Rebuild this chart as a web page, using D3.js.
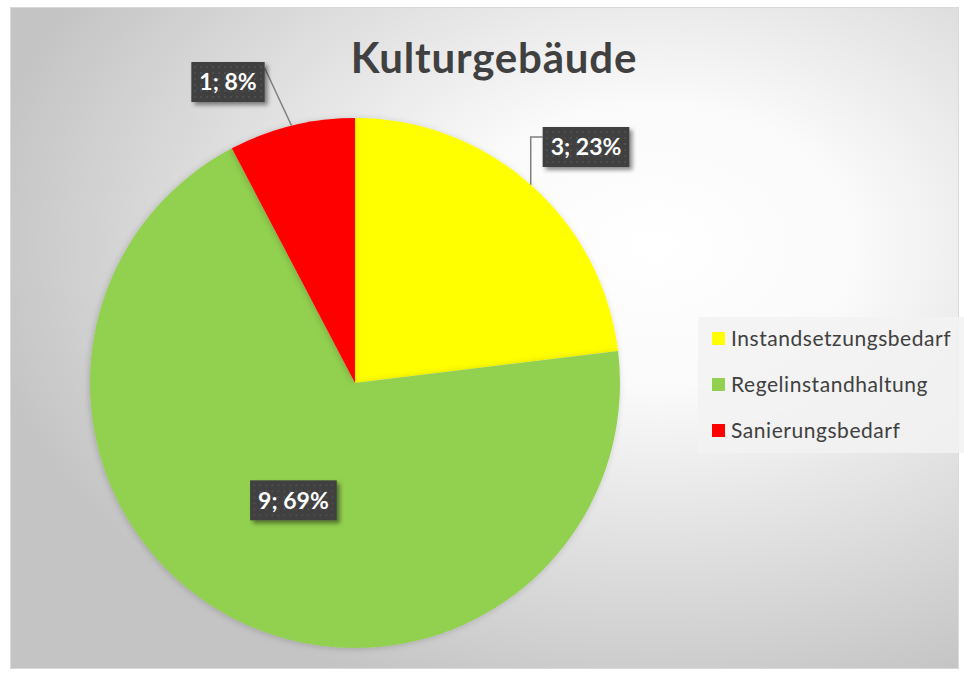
<!DOCTYPE html>
<html>
<head>
<meta charset="utf-8">
<script src="https://cdn.jsdelivr.net/npm/d3@7"></script>
<style>
  body { margin: 0; background: #fff; }
  text { font-family: Lato, "Open Sans", sans-serif; }
</style>
</head>
<body>
<svg id="canvas"></svg>
<script>
const categories = ["Instandsetzungsbedarf", "Regelinstandhaltung", "Sanierungsbedarf"];
const counts = [3, 9, 1];
const colors = ["#ffff00", "#92d050", "#ff0000"];
const title = "Kulturgebäude";

function getChartConfig() {
  let canvasWidth = 964,
    canvasHeight = 673;
  let svg = d3.select("#canvas");
  svg.attr("width", canvasWidth).attr("height", canvasHeight);
  let cx = 355, cy = 383, radius = 265;
  return { canvasWidth, canvasHeight, svg, cx, cy, radius };
}

function drawBackground(config) {
  let { svg } = config;
  let defs = svg.append("defs");

  let grad = defs.append("radialGradient")
    .attr("id", "bg")
    .attr("cx", "68%").attr("cy", "36%").attr("r", "72%");
  grad.append("stop").attr("offset", "0%").attr("stop-color", "#ffffff");
  grad.append("stop").attr("offset", "30%").attr("stop-color", "#fafafa");
  grad.append("stop").attr("offset", "100%").attr("stop-color", "#c4c4c4");

  let pat = defs.append("pattern")
    .attr("id", "dots")
    .attr("width", 6).attr("height", 6)
    .attr("patternUnits", "userSpaceOnUse");
  pat.append("rect").attr("width", 6).attr("height", 6).attr("fill", "#3f3f3f");
  pat.append("circle").attr("cx", 3).attr("cy", 3).attr("r", 0.9).attr("fill", "#555");

  let sh = defs.append("filter").attr("id", "shadow")
    .attr("x", "-20%").attr("y", "-20%").attr("width", "150%").attr("height", "160%");
  sh.append("feDropShadow")
    .attr("dx", 3).attr("dy", 3).attr("stdDeviation", 2)
    .attr("flood-color", "#000").attr("flood-opacity", 0.45);

  let psh = defs.append("filter").attr("id", "pieshadow")
    .attr("x", "-10%").attr("y", "-10%").attr("width", "120%").attr("height", "120%");
  psh.append("feDropShadow")
    .attr("dx", -1).attr("dy", 1).attr("stdDeviation", 3)
    .attr("flood-color", "#000").attr("flood-opacity", 0.18);

  svg.append("rect")
    .attr("x", 10.5).attr("y", 7.5)
    .attr("width", 948).attr("height", 661)
    .attr("fill", "url(#bg)")
    .attr("stroke", "#d9d9d9");

  svg.append("text")
    .attr("x", 494).attr("y", 73)
    .attr("text-anchor", "middle")
    .attr("font-size", 42)
    .attr("letter-spacing", 0.8)
    .attr("font-weight", "bold")
    .attr("fill", "#404040")
    .text(title);
}

function drawPie(config) {
  let { svg, cx, cy, radius } = config;
  let total = d3.sum(counts);

  let pie = d3.pie().sort(null).value((d) => d);
  let arcs = pie(counts);
  let arc = d3.arc().innerRadius(0).outerRadius(radius);

  let g = svg.append("g").attr("transform", `translate(${cx},${cy})`);

  g.selectAll("path.slice")
    .data(arcs)
    .enter()
    .append("path")
    .attr("class", "slice")
    .attr("d", arc)
    .attr("fill", (d, i) => colors[i])
    .attr("filter", "url(#pieshadow)");

  // label placement: inside for the big slice, callouts outside for the others
  let labelPlace = [
    { mode: "out", x: 231, y: -236, leader: "elbow" },
    { mode: "in" },
    { mode: "out", x: -127, y: -301, leader: "corner" },
  ];

  arcs.forEach((a, i) => {
    let text = counts[i] + "; " + Math.round((counts[i] / total) * 100) + "%";
    let place = labelPlace[i];
    let pos;
    if (place.mode === "in") {
      pos = arc.centroid(a);
    } else {
      pos = [place.x, place.y];
    }

    let lab = g.append("g").attr("transform", `translate(${pos[0]},${pos[1]})`);
    let t = lab.append("text")
      .attr("text-anchor", "middle")
      .attr("dy", "0.36em")
      .attr("font-size", 23)
      .attr("font-weight", "bold")
      .attr("fill", "#ffffff")
      .text(text);
    let bb = t.node().getBBox();
    let w = bb.width + 16, h = 40;
    lab.insert("rect", "text")
      .attr("x", -w / 2).attr("y", -h / 2)
      .attr("width", w).attr("height", h)
      .attr("fill", "url(#dots)")
      .attr("filter", "url(#shadow)");

    if (place.mode === "out") {
      let mid = (a.startAngle + a.endAngle) / 2;
      let px = Math.sin(mid) * radius, py = -Math.cos(mid) * radius;
      let pts;
      if (place.leader === "elbow") {
        let bx = pos[0] - w / 2;
        pts = [[px, py], [px, pos[1] - 10], [bx, pos[1] - 10]];
      } else {
        pts = [[px, py], [pos[0] + w / 2, pos[1] - h / 2 + 6]];
      }
      g.insert("path", "g")
        .attr("d", d3.line()(pts))
        .attr("fill", "none")
        .attr("stroke", "#7f7f7f")
        .attr("stroke-width", 1.5);
    }
  });
}

function drawLegend(config) {
  let { svg } = config;
  let lg = svg.append("g").attr("transform", "translate(698,317)");
  lg.append("rect")
    .attr("width", 266).attr("height", 136)
    .attr("fill", "#f2f2f2").attr("opacity", 0.85);

  let item = lg.selectAll(".legend")
    .data(categories)
    .enter()
    .append("g")
    .attr("class", "legend")
    .attr("transform", (d, i) => `translate(0,${21 + i * 46})`);

  item.append("rect")
    .attr("x", 14).attr("y", -6)
    .attr("width", 13).attr("height", 13)
    .attr("fill", (d, i) => colors[i]);

  item.append("text")
    .attr("x", 33).attr("dy", "0.36em")
    .attr("font-size", 21)
    .attr("letter-spacing", 0.55)
    .attr("fill", "#404040")
    .text((d) => d);
}

let config = getChartConfig();
drawBackground(config);
drawPie(config);
drawLegend(config);
</script>
</body>
</html>
